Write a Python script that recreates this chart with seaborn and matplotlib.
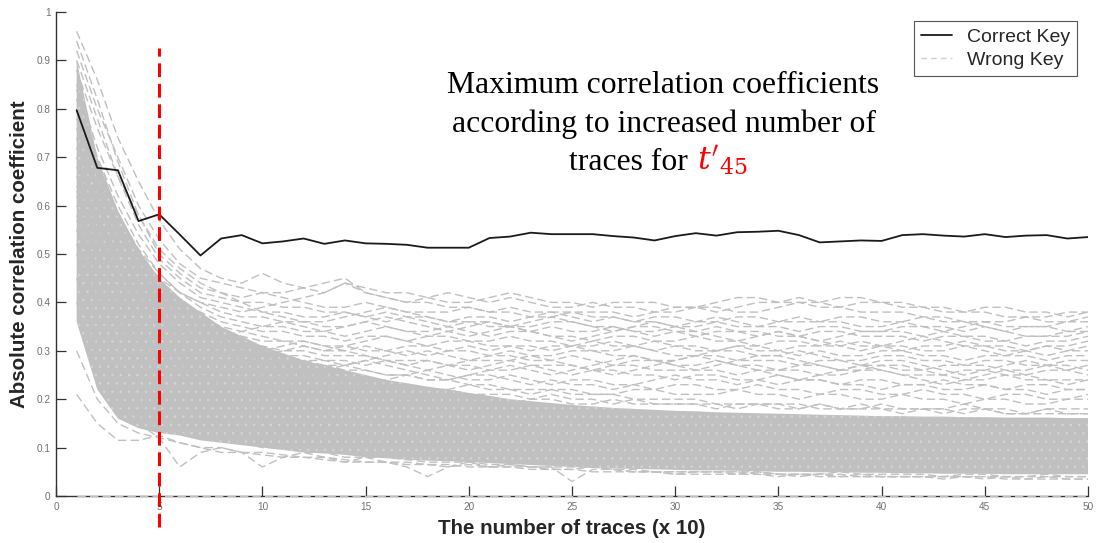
import numpy as np
import pandas as pd
import matplotlib
matplotlib.use("Agg")
import matplotlib.pyplot as plt
from matplotlib.lines import Line2D
import seaborn as sns

# x axis: number of traces (x 10)
traces = list(range(1, 51))

correct_key = [0.797, 0.678, 0.673, 0.568, 0.582, 0.540, 0.497, 0.532, 0.539, 0.522,
               0.526, 0.532, 0.521, 0.528, 0.522, 0.521, 0.519, 0.513, 0.513, 0.513,
               0.533, 0.536, 0.544, 0.541, 0.541, 0.541, 0.537, 0.534, 0.528, 0.537,
               0.543, 0.538, 0.545, 0.546, 0.548, 0.539, 0.524, 0.526, 0.528, 0.527,
               0.539, 0.541, 0.538, 0.536, 0.541, 0.535, 0.538, 0.539, 0.532, 0.535]

# dense bulk of the wrong-key traces (lower / upper edge)
bulk_low = [0.36, 0.22, 0.16, 0.14, 0.13, 0.125, 0.115, 0.11, 0.105, 0.10,
            0.095, 0.09, 0.088, 0.085, 0.08, 0.078, 0.075, 0.073, 0.072, 0.07,
            0.068, 0.066, 0.064, 0.062, 0.06, 0.058, 0.057, 0.056, 0.055, 0.054,
            0.053, 0.053, 0.052, 0.051, 0.05, 0.05, 0.049, 0.049, 0.048, 0.048,
            0.047, 0.047, 0.046, 0.046, 0.046, 0.045, 0.045, 0.045, 0.045, 0.045]
bulk_high = [0.90, 0.70, 0.59, 0.51, 0.45, 0.41, 0.38, 0.35, 0.33, 0.31,
             0.295, 0.28, 0.27, 0.26, 0.25, 0.24, 0.233, 0.226, 0.22, 0.213,
             0.207, 0.20, 0.196, 0.192, 0.188, 0.185, 0.182, 0.18, 0.178, 0.176,
             0.175, 0.173, 0.172, 0.171, 0.17, 0.169, 0.168, 0.167, 0.166, 0.165,
             0.165, 0.164, 0.164, 0.163, 0.163, 0.162, 0.162, 0.162, 0.161, 0.161]

# wrong-key traces that stand out from the bulk
wrong_1 = [0.96, 0.86, 0.74, 0.65, 0.57, 0.51, 0.47, 0.45, 0.44, 0.46, 0.44, 0.43, 0.42, 0.44, 0.43, 0.42, 0.42, 0.41, 0.42, 0.41,
           0.40, 0.41, 0.40, 0.39, 0.39, 0.40, 0.39, 0.39, 0.38, 0.38, 0.39, 0.39, 0.38, 0.38, 0.39, 0.40, 0.40, 0.39, 0.40, 0.40,
           0.39, 0.39, 0.38, 0.38, 0.38, 0.37, 0.37, 0.36, 0.36, 0.37]
wrong_2 = [0.92, 0.80, 0.70, 0.60, 0.53, 0.48, 0.45, 0.44, 0.43, 0.42, 0.42, 0.43, 0.44, 0.45, 0.42, 0.41, 0.40, 0.41, 0.40, 0.40,
           0.41, 0.42, 0.41, 0.40, 0.40, 0.39, 0.40, 0.40, 0.40, 0.39, 0.39, 0.40, 0.41, 0.41, 0.40, 0.40, 0.39, 0.39, 0.38, 0.38,
           0.38, 0.37, 0.37, 0.36, 0.36, 0.35, 0.35, 0.35, 0.36, 0.36]
wrong_3 = [0.88, 0.76, 0.66, 0.58, 0.50, 0.46, 0.43, 0.42, 0.41, 0.42, 0.41, 0.40, 0.39, 0.39, 0.40, 0.39, 0.38, 0.38, 0.38, 0.39,
           0.38, 0.38, 0.37, 0.38, 0.38, 0.37, 0.37, 0.36, 0.37, 0.37, 0.36, 0.36, 0.37, 0.37, 0.36, 0.36, 0.36, 0.37, 0.37, 0.36,
           0.36, 0.35, 0.35, 0.34, 0.35, 0.34, 0.33, 0.33, 0.34, 0.34]
wrong_4 = [0.85, 0.72, 0.62, 0.54, 0.48, 0.44, 0.41, 0.40, 0.39, 0.38, 0.38, 0.37, 0.37, 0.38, 0.37, 0.36, 0.37, 0.36, 0.35, 0.36,
           0.36, 0.35, 0.35, 0.36, 0.36, 0.35, 0.34, 0.35, 0.35, 0.34, 0.34, 0.35, 0.34, 0.34, 0.33, 0.33, 0.34, 0.34, 0.33, 0.33,
           0.33, 0.32, 0.33, 0.33, 0.32, 0.32, 0.31, 0.32, 0.32, 0.33]
wrong_5 = [0.80, 0.68, 0.58, 0.51, 0.46, 0.42, 0.40, 0.38, 0.37, 0.37, 0.36, 0.36, 0.35, 0.35, 0.36, 0.35, 0.34, 0.34, 0.35, 0.34,
           0.33, 0.34, 0.34, 0.33, 0.33, 0.32, 0.33, 0.33, 0.32, 0.32, 0.33, 0.32, 0.32, 0.31, 0.32, 0.32, 0.31, 0.31, 0.32, 0.31,
           0.31, 0.30, 0.30, 0.31, 0.31, 0.30, 0.30, 0.29, 0.30, 0.30]
wrong_6 = [0.76, 0.64, 0.56, 0.49, 0.44, 0.40, 0.38, 0.36, 0.35, 0.34, 0.34, 0.33, 0.33, 0.32, 0.33, 0.33, 0.32, 0.31, 0.32, 0.32,
           0.31, 0.31, 0.30, 0.31, 0.31, 0.30, 0.30, 0.31, 0.30, 0.29, 0.29, 0.30, 0.30, 0.29, 0.29, 0.30, 0.29, 0.28, 0.28, 0.29,
           0.29, 0.28, 0.28, 0.27, 0.28, 0.28, 0.27, 0.27, 0.28, 0.28]
wrong_7 = [0.72, 0.60, 0.52, 0.46, 0.42, 0.38, 0.36, 0.34, 0.33, 0.32, 0.32, 0.31, 0.30, 0.30, 0.31, 0.30, 0.29, 0.30, 0.29, 0.28,
           0.29, 0.29, 0.28, 0.28, 0.29, 0.28, 0.27, 0.28, 0.28, 0.27, 0.27, 0.28, 0.27, 0.27, 0.26, 0.27, 0.27, 0.26, 0.26, 0.27,
           0.26, 0.26, 0.25, 0.26, 0.26, 0.25, 0.25, 0.26, 0.26, 0.25]
wrong_8 = [0.70, 0.58, 0.50, 0.44, 0.40, 0.37, 0.35, 0.33, 0.31, 0.30, 0.29, 0.29, 0.28, 0.28, 0.27, 0.28, 0.27, 0.26, 0.27, 0.27,
           0.26, 0.26, 0.27, 0.26, 0.25, 0.26, 0.26, 0.25, 0.25, 0.24, 0.25, 0.25, 0.24, 0.24, 0.25, 0.24, 0.24, 0.23, 0.24, 0.24,
           0.23, 0.23, 0.24, 0.23, 0.23, 0.22, 0.23, 0.23, 0.22, 0.22]
wrong_9 = [0.66, 0.55, 0.47, 0.42, 0.38, 0.35, 0.33, 0.31, 0.30, 0.29, 0.28, 0.27, 0.27, 0.26, 0.26, 0.25, 0.25, 0.26, 0.25, 0.24,
           0.24, 0.25, 0.24, 0.23, 0.24, 0.24, 0.23, 0.23, 0.22, 0.23, 0.23, 0.22, 0.22, 0.23, 0.22, 0.22, 0.21, 0.22, 0.22, 0.21,
           0.21, 0.22, 0.21, 0.21, 0.20, 0.21, 0.21, 0.20, 0.20, 0.21]
wrong_10 = [0.62, 0.50, 0.42, 0.37, 0.33, 0.30, 0.29, 0.28, 0.28, 0.29, 0.30, 0.31, 0.30, 0.31, 0.32, 0.33, 0.32, 0.33, 0.34, 0.33,
            0.34, 0.35, 0.34, 0.35, 0.34, 0.34, 0.35, 0.34, 0.33, 0.34, 0.33, 0.34, 0.34, 0.33, 0.34, 0.33, 0.32, 0.33, 0.34, 0.34,
            0.35, 0.35, 0.34, 0.35, 0.36, 0.36, 0.37, 0.37, 0.38, 0.38]
wrong_11 = [0.58, 0.47, 0.40, 0.35, 0.31, 0.29, 0.27, 0.26, 0.26, 0.27, 0.27, 0.28, 0.28, 0.27, 0.28, 0.29, 0.30, 0.29, 0.30, 0.31,
            0.30, 0.31, 0.31, 0.30, 0.31, 0.31, 0.32, 0.31, 0.32, 0.31, 0.31, 0.30, 0.31, 0.31, 0.30, 0.31, 0.31, 0.32, 0.31, 0.31,
            0.30, 0.31, 0.31, 0.32, 0.31, 0.31, 0.30, 0.31, 0.31, 0.32]
wrong_12 = [0.90, 0.78, 0.66, 0.56, 0.49, 0.45, 0.42, 0.41, 0.40, 0.40, 0.39, 0.39, 0.38, 0.38, 0.37, 0.38, 0.37, 0.37, 0.36, 0.37,
            0.37, 0.36, 0.37, 0.37, 0.38, 0.38, 0.38, 0.37, 0.38, 0.39, 0.39, 0.38, 0.39, 0.40, 0.40, 0.41, 0.40, 0.41, 0.41, 0.40,
            0.40, 0.39, 0.39, 0.38, 0.39, 0.39, 0.38, 0.38, 0.37, 0.38]
wrong_13 = [0.55, 0.44, 0.37, 0.32, 0.29, 0.27, 0.25, 0.24, 0.24, 0.23, 0.23, 0.24, 0.24, 0.23, 0.22, 0.23, 0.23, 0.22, 0.22, 0.23,
            0.22, 0.22, 0.21, 0.22, 0.22, 0.21, 0.21, 0.22, 0.22, 0.21, 0.21, 0.21, 0.22, 0.21, 0.21, 0.20, 0.21, 0.21, 0.20, 0.20,
            0.21, 0.20, 0.20, 0.19, 0.20, 0.20, 0.19, 0.19, 0.20, 0.20]
wrong_14 = [0.84, 0.70, 0.60, 0.52, 0.46, 0.42, 0.39, 0.37, 0.36, 0.35, 0.35, 0.34, 0.34, 0.33, 0.34, 0.35, 0.34, 0.33, 0.33, 0.32,
            0.32, 0.33, 0.32, 0.32, 0.31, 0.32, 0.31, 0.31, 0.30, 0.31, 0.30, 0.30, 0.31, 0.30, 0.30, 0.29, 0.30, 0.29, 0.29, 0.30,
            0.30, 0.29, 0.29, 0.28, 0.29, 0.29, 0.29, 0.28, 0.29, 0.29]
wrong_15 = [0.74, 0.62, 0.54, 0.48, 0.43, 0.39, 0.37, 0.35, 0.34, 0.33, 0.32, 0.32, 0.31, 0.31, 0.30, 0.30, 0.31, 0.31, 0.30, 0.30,
            0.29, 0.30, 0.29, 0.29, 0.30, 0.30, 0.29, 0.29, 0.28, 0.28, 0.29, 0.29, 0.28, 0.28, 0.28, 0.27, 0.28, 0.28, 0.27, 0.27,
            0.27, 0.26, 0.27, 0.27, 0.27, 0.26, 0.26, 0.27, 0.27, 0.26]
wrong_16 = [0.68, 0.57, 0.48, 0.43, 0.39, 0.36, 0.34, 0.32, 0.31, 0.31, 0.30, 0.30, 0.29, 0.29, 0.29, 0.28, 0.28, 0.28, 0.27, 0.28,
            0.28, 0.28, 0.27, 0.27, 0.27, 0.26, 0.27, 0.27, 0.26, 0.26, 0.26, 0.26, 0.25, 0.26, 0.26, 0.26, 0.25, 0.25, 0.26, 0.26,
            0.25, 0.25, 0.25, 0.24, 0.24, 0.25, 0.24, 0.24, 0.24, 0.24]
wrong_17 = [0.78, 0.66, 0.56, 0.50, 0.45, 0.42, 0.40, 0.39, 0.38, 0.39, 0.40, 0.41, 0.42, 0.44, 0.42, 0.41, 0.40, 0.40, 0.39, 0.39,
            0.38, 0.39, 0.38, 0.38, 0.37, 0.36, 0.37, 0.36, 0.36, 0.35, 0.35, 0.36, 0.35, 0.35, 0.35, 0.34, 0.35, 0.35, 0.34, 0.34,
            0.34, 0.33, 0.34, 0.33, 0.33, 0.32, 0.33, 0.33, 0.33, 0.34]
wrong_18 = [0.52, 0.42, 0.36, 0.31, 0.28, 0.26, 0.24, 0.23, 0.22, 0.22, 0.21, 0.21, 0.21, 0.20, 0.21, 0.20, 0.20, 0.20, 0.21, 0.20,
            0.20, 0.19, 0.20, 0.20, 0.19, 0.19, 0.20, 0.19, 0.19, 0.19, 0.19, 0.19, 0.18, 0.19, 0.19, 0.18, 0.19, 0.18, 0.18, 0.19,
            0.18, 0.18, 0.18, 0.19, 0.18, 0.18, 0.17, 0.18, 0.18, 0.18]
wrong_19 = [0.21, 0.15, 0.115, 0.115, 0.125, 0.11, 0.10, 0.09, 0.09, 0.085, 0.08, 0.08, 0.075, 0.07, 0.07, 0.07, 0.065, 0.065, 0.06, 0.065,
            0.06, 0.06, 0.06, 0.055, 0.055, 0.06, 0.055, 0.05, 0.05, 0.05, 0.05, 0.05, 0.045, 0.05, 0.045, 0.045, 0.045, 0.04, 0.045, 0.04,
            0.04, 0.04, 0.04, 0.04, 0.035, 0.04, 0.035, 0.035, 0.035, 0.035]
wrong_20 = [0.40, 0.26, 0.19, 0.15, 0.12, 0.06, 0.09, 0.10, 0.09, 0.06, 0.08, 0.09, 0.08, 0.07, 0.08, 0.07, 0.06, 0.04, 0.06, 0.07,
            0.06, 0.065, 0.06, 0.06, 0.03, 0.055, 0.055, 0.05, 0.05, 0.045, 0.05, 0.05, 0.05, 0.045, 0.045, 0.04, 0.045, 0.045, 0.04, 0.04,
            0.04, 0.04, 0.035, 0.04, 0.04, 0.035, 0.035, 0.04, 0.035, 0.035]
# traces hugging the edges of the bulk
wrong_21 = [0.60, 0.52, 0.45, 0.40, 0.36, 0.33, 0.31, 0.30, 0.28, 0.27, 0.26, 0.26, 0.25, 0.24, 0.24, 0.23, 0.23, 0.22, 0.22, 0.21,
            0.21, 0.21, 0.20, 0.21, 0.20, 0.20, 0.19, 0.20, 0.19, 0.19, 0.19, 0.18, 0.19, 0.19, 0.18, 0.18, 0.19, 0.18, 0.18, 0.18,
            0.17, 0.18, 0.18, 0.17, 0.18, 0.17, 0.17, 0.18, 0.17, 0.17]
wrong_22 = [0.64, 0.55, 0.50, 0.45, 0.41, 0.38, 0.35, 0.33, 0.32, 0.30, 0.29, 0.28, 0.27, 0.27, 0.26, 0.25, 0.25, 0.24, 0.24, 0.23,
            0.23, 0.22, 0.22, 0.22, 0.21, 0.21, 0.21, 0.20, 0.20, 0.20, 0.20, 0.19, 0.19, 0.19, 0.19, 0.19, 0.18, 0.18, 0.19, 0.18,
            0.18, 0.18, 0.17, 0.18, 0.18, 0.17, 0.17, 0.17, 0.17, 0.17]
wrong_23 = [0.30, 0.20, 0.15, 0.13, 0.12, 0.11, 0.10, 0.10, 0.09, 0.09, 0.085, 0.08, 0.08, 0.075, 0.07, 0.07, 0.07, 0.065, 0.065, 0.06,
            0.06, 0.06, 0.055, 0.055, 0.055, 0.05, 0.05, 0.05, 0.05, 0.045, 0.045, 0.045, 0.045, 0.045, 0.04, 0.045, 0.04, 0.04, 0.04, 0.04,
            0.04, 0.04, 0.04, 0.04, 0.04, 0.04, 0.04, 0.04, 0.04, 0.04]
wrong_24 = [0.45, 0.30, 0.22, 0.17, 0.14, 0.13, 0.12, 0.12, 0.11, 0.10, 0.10, 0.09, 0.09, 0.08, 0.08, 0.08, 0.075, 0.07, 0.07, 0.07,
            0.065, 0.065, 0.06, 0.06, 0.06, 0.06, 0.055, 0.055, 0.05, 0.05, 0.05, 0.05, 0.05, 0.05, 0.045, 0.045, 0.045, 0.05, 0.045, 0.045,
            0.045, 0.045, 0.04, 0.045, 0.045, 0.04, 0.04, 0.045, 0.04, 0.04]
# wandering traces in the middle zone
wrong_25 = [0.82, 0.66, 0.55, 0.47, 0.41, 0.37, 0.34, 0.32, 0.31, 0.30, 0.31, 0.32, 0.31, 0.30, 0.29, 0.28, 0.27, 0.28, 0.27, 0.26,
            0.27, 0.28, 0.29, 0.28, 0.27, 0.26, 0.25, 0.26, 0.27, 0.28, 0.29, 0.28, 0.27, 0.26, 0.25, 0.24, 0.25, 0.26, 0.27, 0.26,
            0.25, 0.24, 0.23, 0.24, 0.25, 0.26, 0.25, 0.24, 0.23, 0.24]
wrong_26 = [0.63, 0.53, 0.46, 0.41, 0.37, 0.34, 0.33, 0.33, 0.34, 0.35, 0.36, 0.35, 0.34, 0.35, 0.36, 0.37, 0.36, 0.35, 0.34, 0.35,
            0.36, 0.35, 0.34, 0.33, 0.32, 0.33, 0.34, 0.35, 0.36, 0.35, 0.34, 0.33, 0.32, 0.33, 0.34, 0.33, 0.32, 0.31, 0.30, 0.31,
            0.32, 0.33, 0.32, 0.31, 0.30, 0.29, 0.30, 0.31, 0.30, 0.31]
wrong_27 = [0.57, 0.49, 0.43, 0.38, 0.35, 0.32, 0.30, 0.28, 0.27, 0.26, 0.25, 0.25, 0.26, 0.27, 0.28, 0.27, 0.26, 0.25, 0.24, 0.25,
            0.26, 0.27, 0.26, 0.25, 0.26, 0.27, 0.28, 0.29, 0.28, 0.27, 0.26, 0.27, 0.28, 0.29, 0.29, 0.28, 0.27, 0.26, 0.27, 0.28,
            0.28, 0.27, 0.26, 0.25, 0.26, 0.27, 0.28, 0.27, 0.26, 0.27]
wrong_28 = [0.94, 0.82, 0.69, 0.58, 0.51, 0.47, 0.44, 0.42, 0.40, 0.38, 0.37, 0.36, 0.36, 0.37, 0.38, 0.39, 0.38, 0.37, 0.36, 0.36,
            0.35, 0.35, 0.36, 0.37, 0.36, 0.35, 0.35, 0.34, 0.34, 0.35, 0.36, 0.37, 0.36, 0.35, 0.36, 0.37, 0.36, 0.36, 0.35, 0.35,
            0.36, 0.37, 0.36, 0.36, 0.35, 0.34, 0.35, 0.35, 0.34, 0.35]
wrong_29 = [0.50, 0.41, 0.35, 0.31, 0.28, 0.26, 0.25, 0.24, 0.24, 0.25, 0.26, 0.25, 0.25, 0.24, 0.23, 0.24, 0.25, 0.24, 0.24, 0.25,
            0.25, 0.24, 0.23, 0.24, 0.23, 0.23, 0.22, 0.23, 0.24, 0.25, 0.24, 0.24, 0.23, 0.24, 0.23, 0.24, 0.24, 0.23, 0.23, 0.22,
            0.23, 0.23, 0.22, 0.22, 0.23, 0.22, 0.22, 0.21, 0.22, 0.22]
wrong_zero = [0.0] * 50

wrong_keys = [wrong_1, wrong_2, wrong_3, wrong_4, wrong_5, wrong_6, wrong_7, wrong_8, wrong_9, wrong_10,
              wrong_11, wrong_12, wrong_13, wrong_14, wrong_15, wrong_16, wrong_17, wrong_18, wrong_19, wrong_20,
              wrong_21, wrong_22, wrong_23, wrong_24, wrong_25, wrong_26, wrong_27, wrong_28, wrong_29, wrong_zero]

GRAY = "#c0c0c0"

sns.set_style("ticks")
plt.rcParams["font.family"] = ["Liberation Sans", "DejaVu Sans"]
plt.rcParams["mathtext.fontset"] = "dejavuserif"
plt.rcParams["hatch.linewidth"] = 0.6

wrong_df = pd.DataFrame({
    "trace": np.tile(traces, len(wrong_keys)),
    "corr": np.concatenate(wrong_keys),
    "key": np.repeat(np.arange(len(wrong_keys)), len(traces)),
})
correct_df = pd.DataFrame({"trace": traces, "corr": correct_key})

fig = plt.figure(figsize=(10.97, 5.43), dpi=100)
ax = fig.add_axes([56 / 1097, 1 - 496 / 543, 1032 / 1097, 484 / 543])

ax.fill_between(traces, bulk_low, bulk_high, facecolor=GRAY, edgecolor="#d4d4d4",
                hatch="..", lw=0, zorder=1)
sns.lineplot(data=wrong_df, x="trace", y="corr", units="key", estimator=None,
             color=GRAY, lw=1.0, linestyle=(0, (6, 3)), legend=False, ax=ax,
             zorder=3, clip_on=False)
sns.lineplot(data=correct_df, x="trace", y="corr", color="#1a1a1a", lw=1.3,
             legend=False, ax=ax, zorder=4)

ax.plot([5, 5], [-0.065, 0.925], color="red", lw=2.2, linestyle=(0, (4.5, 2.2)),
        clip_on=False, zorder=5)

ax.set_xlim(0, 50)
ax.set_ylim(0, 1)
ax.set_xticks(range(0, 51, 5))
ax.set_yticks(np.arange(0, 1.01, 0.1))
ax.set_yticklabels(["0", "0.1", "0.2", "0.3", "0.4", "0.5", "0.6", "0.7", "0.8", "0.9", "1"])
ax.tick_params(direction="in", length=7, width=0.9, color="#333333",
               labelsize=7.2, labelcolor="#707070", pad=4)
sns.despine(ax=ax)
for side in ["left", "bottom"]:
    ax.spines[side].set_color("#333333")
    ax.spines[side].set_linewidth(1.0)

ax.set_xlabel("The number of traces (x 10)", fontsize=14.8, fontweight="bold",
              color="#262626", labelpad=5)
ax.set_ylabel("Absolute correlation coefficient", fontsize=14.8, fontweight="bold",
              color="#262626", labelpad=5)

handles = [Line2D([], [], color="#1a1a1a", lw=1.3),
           Line2D([], [], color="#d0d0d0", lw=1.0, linestyle=(0, (4, 3)))]
leg = ax.legend(handles, ["Correct Key", "Wrong Key"], loc="upper right",
                bbox_to_anchor=(0.989, 0.981), borderaxespad=0, fontsize=14,
                handlelength=1.6, fancybox=False, framealpha=1,
                edgecolor="#555555", borderpad=0.35, labelspacing=0.3,
                handletextpad=0.75)
leg.get_frame().set_linewidth(0.8)
for t in leg.get_texts():
    t.set_color("#262626")

serif = ["Liberation Serif", "DejaVu Serif"]
fs_title = 22.8
fig.text(663 / 1097, 1 - 93 / 543, "Maximum correlation coefficients", ha="center",
         va="baseline", fontsize=fs_title, family=serif, color="black")
fig.text(664 / 1097, 1 - 132 / 543, "according to increased number of", ha="center",
         va="baseline", fontsize=fs_title, family=serif, color="black")
fig.text(688 / 1097, 1 - 170 / 543, "traces for", ha="right",
         va="baseline", fontsize=fs_title, family=serif, color="black")
fig.text(697 / 1097, 1 - 170 / 543, r"$t'_{45}$", ha="left",
         va="baseline", fontsize=fs_title, color="red")

fig.savefig("out.png", dpi=100)
